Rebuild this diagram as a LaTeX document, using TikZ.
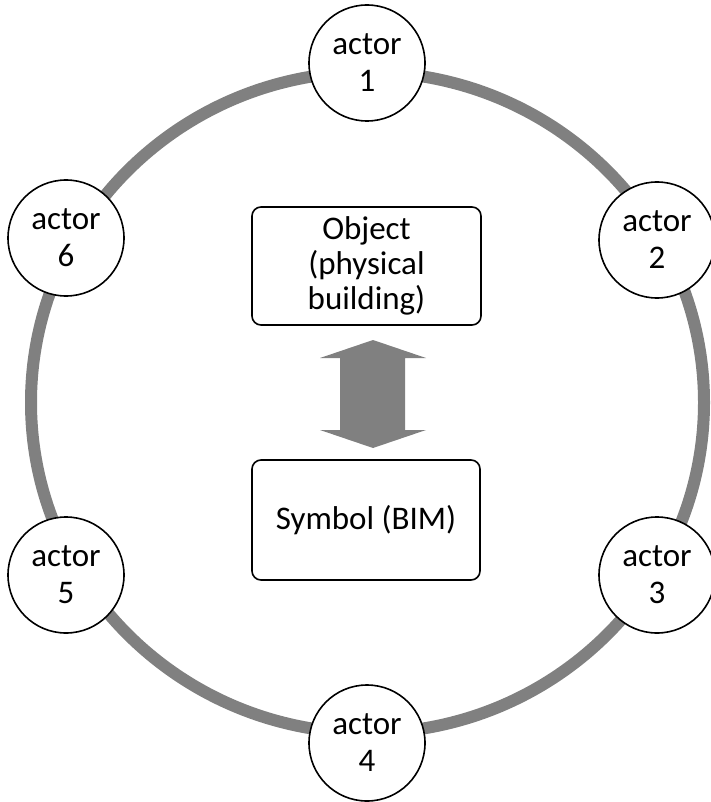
\documentclass[tikz,border=0pt]{standalone}
\usepackage{fontspec}
\setmainfont{Carlito}
\definecolor{ringgray}{RGB}{128,128,128}
\tikzset{
  actor/.style={circle,draw=black,line width=1.6pt,fill=white,minimum size=116pt,inner sep=0pt,align=center,font=\fontsize{33}{37}\selectfont},
  box/.style={rectangle,rounded corners=9pt,draw=black,line width=1.6pt,fill=white,inner sep=0pt,align=center,font=\fontsize{33}{35}\selectfont},
}
\begin{document}
\begin{tikzpicture}[x=1pt,y=-1pt]
\useasboundingbox (0,0) rectangle (711,802);
\draw[ringgray,line width=12pt] (367.5,402.5) ellipse [x radius=336.5pt,y radius=330.5pt];
\node[actor] (a1) at (367,63) {actor\\1};
\node[actor] (a2) at (657,240) {actor\\2};
\node[actor] (a3) at (657,575) {actor\\3};
\node[actor] (a4) at (367,743) {actor\\4};
\node[actor] (a5) at (66,575) {actor\\5};
\node[actor] (a6) at (66,238) {actor\\6};
\node[box,minimum width=229pt,minimum height=118pt] (obj) at (366.5,266) {Object\\(physical\\building)};
\node[box,minimum width=228pt,minimum height=120pt] (sym) at (366,520) {Symbol (BIM)};
\fill[ringgray] (373,340) -- (426,358) -- (405,358) -- (405,430) -- (426,430) -- (373,448)
  -- (320,430) -- (340,430) -- (340,358) -- (320,358) -- cycle;
\end{tikzpicture}
\end{document}
